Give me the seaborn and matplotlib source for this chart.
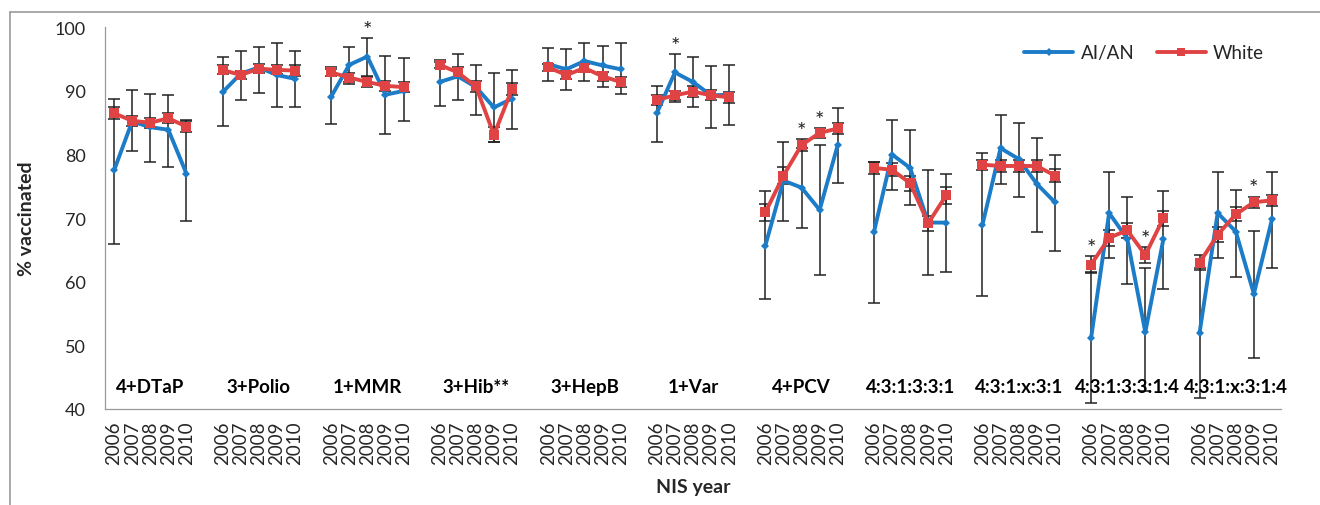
import numpy as np
import pandas as pd
import seaborn as sns
import matplotlib.pyplot as plt
from matplotlib.lines import Line2D

# vaccine series and survey years
vaccines = ["4+DTaP", "3+Polio", "1+MMR", "3+Hib**", "3+HepB", "1+Var",
            "4+PCV", "4:3:1:3:3:1", "4:3:1:x:3:1", "4:3:1:3:3:1:4", "4:3:1:x:3:1:4"]
years = ["2006", "2007", "2008", "2009", "2010"]

# AI/AN coverage (%) and 95% CI
aian = [
    [77.5, 85.2, 84.3, 83.9, 77.0],
    [89.8, 92.7, 93.7, 92.5, 91.9],
    [89.1, 94.1, 95.4, 89.4, 90.0],
    [91.4, 92.3, 90.6, 87.4, 88.8],
    [94.2, 93.4, 94.7, 94.0, 93.4],
    [86.5, 92.9, 91.4, 89.3, 89.4],
    [65.7, 75.9, 74.8, 71.3, 81.5],
    [67.8, 80.0, 77.9, 69.3, 69.3],
    [69.0, 81.0, 79.3, 75.4, 72.5],
    [51.1, 70.8, 66.8, 52.1, 66.7],
    [52.0, 70.8, 67.9, 58.1, 69.8],
]
aian_lo = [
    [65.9, 80.6, 78.9, 78.1, 69.5],
    [84.5, 88.6, 89.6, 87.4, 87.5],
    [84.8, 91.1, 92.3, 83.2, 85.2],
    [87.7, 88.5, 86.2, 81.9, 84.0],
    [91.6, 90.1, 91.6, 90.6, 89.5],
    [82.0, 88.2, 87.4, 84.2, 84.7],
    [57.3, 69.6, 68.5, 61.1, 75.5],
    [56.7, 74.5, 72.0, 61.1, 61.5],
    [57.7, 75.4, 73.3, 67.8, 64.9],
    [41.0, 63.8, 59.6, 42.8, 58.9],
    [41.8, 63.8, 60.8, 48.0, 62.1],
]
aian_hi = [
    [88.8, 90.2, 89.5, 89.3, 85.5],
    [95.3, 96.3, 96.9, 97.6, 96.2],
    [93.7, 96.9, 98.3, 95.5, 95.2],
    [94.8, 95.8, 94.1, 92.8, 93.3],
    [96.7, 96.6, 97.6, 97.0, 97.5],
    [90.8, 95.8, 95.3, 93.9, 94.0],
    [74.2, 82.0, 81.0, 81.5, 87.3],
    [78.8, 85.5, 83.8, 77.5, 76.9],
    [80.2, 86.2, 85.0, 82.6, 79.9],
    [61.5, 77.3, 73.4, 62.1, 74.3],
    [62.1, 77.3, 74.5, 68.0, 77.3],
]

# White coverage (%) and 95% CI
white = [
    [86.5, 85.3, 85.0, 85.7, 84.4],
    [93.3, 92.5, 93.5, 93.3, 93.2],
    [92.9, 92.1, 91.4, 90.8, 90.6],
    [94.1, 92.9, 90.7, 83.1, 90.3],
    [93.7, 92.5, 93.6, 92.3, 91.4],
    [88.6, 89.3, 89.9, 89.3, 89.0],
    [70.9, 76.7, 81.5, 83.4, 84.1],
    [77.9, 77.6, 75.5, 69.2, 73.6],
    [78.4, 78.2, 78.2, 78.2, 76.7],
    [62.7, 66.9, 68.1, 64.2, 70.0],
    [63.0, 67.4, 70.6, 72.5, 72.8],
]
white_lo = [
    [85.6, 84.5, 84.2, 84.9, 83.5],
    [92.6, 91.8, 92.8, 92.6, 92.4],
    [92.3, 91.4, 90.6, 90.0, 89.8],
    [93.6, 92.1, 89.8, 81.9, 89.4],
    [93.1, 91.8, 92.9, 91.6, 90.6],
    [87.8, 88.6, 89.1, 88.5, 88.1],
    [69.6, 75.4, 80.6, 82.6, 83.3],
    [77.0, 76.6, 74.3, 68.0, 72.3],
    [77.6, 77.3, 77.3, 77.3, 75.7],
    [61.4, 65.7, 66.9, 63.0, 68.8],
    [61.8, 66.2, 69.5, 71.6, 71.9],
]
white_hi = [
    [87.4, 86.1, 85.8, 86.5, 85.3],
    [94.0, 93.2, 94.2, 94.0, 94.0],
    [93.5, 92.8, 92.2, 91.6, 91.4],
    [94.6, 93.7, 91.6, 84.3, 91.2],
    [94.3, 93.2, 94.3, 93.0, 92.2],
    [89.4, 90.0, 90.7, 90.1, 89.9],
    [72.2, 78.0, 82.4, 84.2, 84.9],
    [78.8, 78.6, 76.7, 70.4, 74.9],
    [79.2, 79.1, 79.1, 79.1, 77.7],
    [64.0, 68.1, 69.3, 65.4, 71.2],
    [64.2, 68.6, 71.7, 73.4, 73.7],
]

# significant differences: (vaccine index, year index, series above which the * sits)
stars = [(2, 2, "AI/AN"), (5, 1, "AI/AN"), (6, 2, "White"), (6, 3, "White"),
         (9, 0, "White"), (9, 3, "White"), (10, 3, "White")]

# -------------------------------------------------------
# Long table, one slot per year plus a blank slot between vaccines
# -------------------------------------------------------
rows = []
for g, vac in enumerate(vaccines):
    for i, yr in enumerate(years):
        slot = g * (len(years) + 1) + i
        rows.append(dict(vaccine=vac, year=yr, x=slot, series="AI/AN",
                         pct=aian[g][i], lo=aian_lo[g][i], hi=aian_hi[g][i]))
        rows.append(dict(vaccine=vac, year=yr, x=slot, series="White",
                         pct=white[g][i], lo=white_lo[g][i], hi=white_hi[g][i]))
df = pd.DataFrame(rows)

blue = "#1c7cc7"
red = "#e04343"
palette = {"AI/AN": blue, "White": red}

sns.set_style("white")
plt.rcParams["font.family"] = ["Lato", "DejaVu Sans"]

fig = plt.figure(figsize=(13.2, 5.06), dpi=100)
ax = fig.add_axes([105 / 1320, 1 - 410 / 506, (1281 - 105) / 1320, (410 - 28.3) / 506])

# error bars under the lines
for s in ["AI/AN", "White"]:
    d = df[df.series == s]
    ax.errorbar(d.x, d.pct, yerr=[d.pct - d.lo, d.hi - d.pct], fmt="none",
                ecolor="#222222", elinewidth=1.1, capsize=4, capthick=1.1, zorder=1)

sns.lineplot(data=df, x="x", y="pct", hue="series", style="series", units="vaccine",
             estimator=None, palette=palette, markers={"AI/AN": "D", "White": "s"},
             dashes=False, lw=2.8, markersize=6.5, markeredgewidth=0,
             legend=False, ax=ax, zorder=3)
# smaller diamonds for AI/AN
for ln in ax.lines:
    if ln.get_marker() == "D":
        ln.set_markersize(4.5)

# asterisks
for g, i, s in stars:
    d = df[(df.vaccine == vaccines[g]) & (df.year == years[i]) & (df.series == s)].iloc[0]
    ax.text(d.x, d.hi - 0.3, "*", ha="center", va="bottom", fontsize=16, color="#222222")

# vaccine labels inside the plot
for g, vac in enumerate(vaccines):
    ax.text(g * (len(years) + 1) + 2, 43.6, vac, ha="center", va="center",
            fontsize=13.5, fontweight="bold", color="black")

n_slots = len(vaccines) * (len(years) + 1) - 1
ax.set_xlim(-0.5, n_slots - 0.5)
ax.set_ylim(40, 100)
ax.set_yticks(range(40, 101, 10))
ax.set_xticks(df.x.unique())
ax.set_xticklabels(df.drop_duplicates("x").year, rotation=90)
ax.set_xticks(np.arange(-0.5, n_slots, 1), minor=True)
ax.tick_params(axis="x", which="major", length=0, labelsize=13.5, pad=8)
ax.tick_params(axis="x", which="minor", direction="in", length=4, color="#999999", width=0.8)
ax.tick_params(axis="y", length=6, color="#999999", width=0.8, labelsize=13, pad=8)

for side in ["top", "right"]:
    ax.spines[side].set_visible(False)
for side in ["left", "bottom"]:
    ax.spines[side].set_color("#999999")
    ax.spines[side].set_linewidth(0.9)

ax.set_xlabel("NIS year", fontsize=14, fontweight="bold", labelpad=10)
ax.set_ylabel("% vaccinated", fontsize=14, fontweight="bold", labelpad=14)

handles = [Line2D([], [], color=blue, lw=2.8, marker="D", markersize=4, markeredgewidth=0),
           Line2D([], [], color=red, lw=2.8, marker="s", markersize=6, markeredgewidth=0)]
ax.legend(handles, ["AI/AN", "White"], ncol=2, frameon=False, fontsize=13.5,
          loc="upper right", bbox_to_anchor=(1.0, 1.0), handlelength=2.6,
          columnspacing=1.2, handletextpad=0.4)

# chart border (Excel frame)
fig.add_artist(Line2D([10 / 1320, 1.0], [1 - 12.7 / 506] * 2, color="#999999", lw=1.2))
fig.add_artist(Line2D([10 / 1320] * 2, [0.0, 1 - 12.7 / 506], color="#999999", lw=1.2))

plt.savefig("out.png", dpi=100)
